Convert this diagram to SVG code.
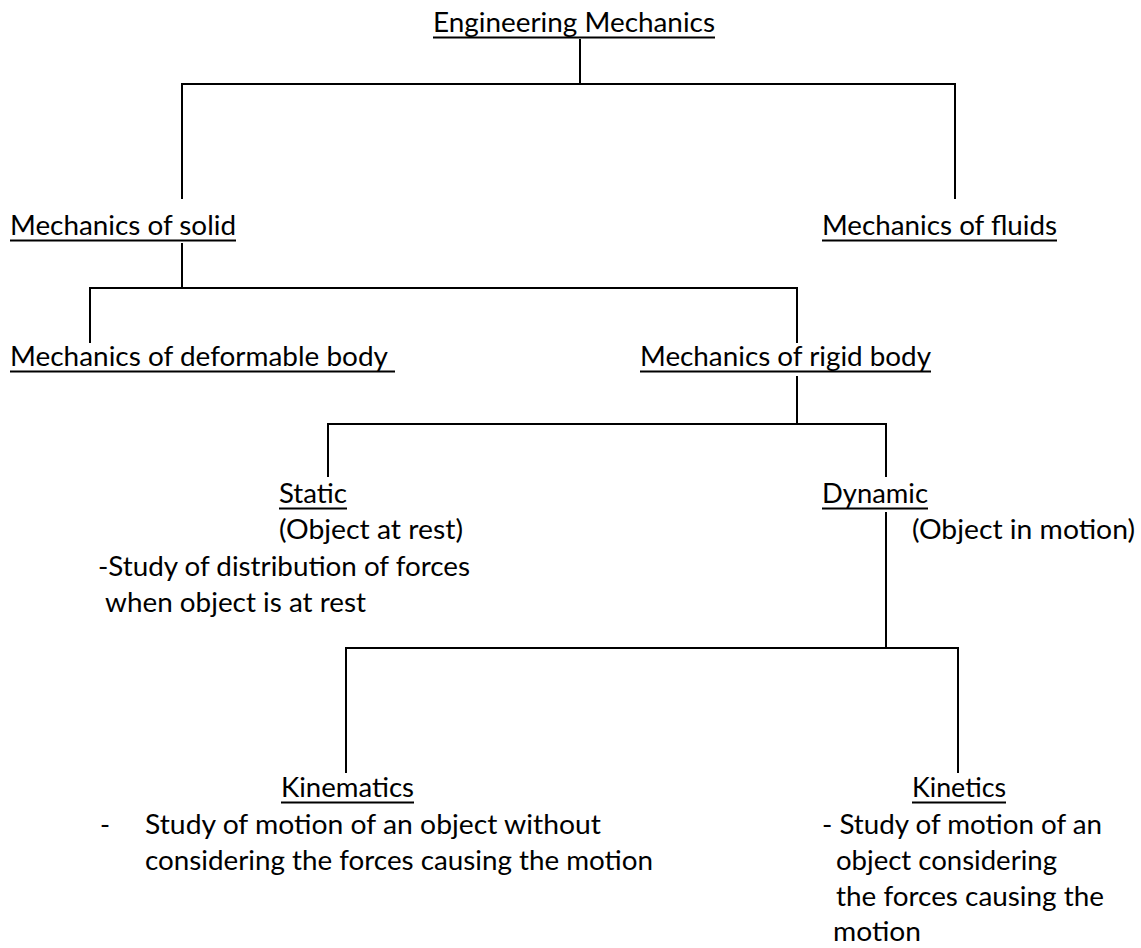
<svg xmlns="http://www.w3.org/2000/svg" width="1141" height="948" viewBox="0 0 1141 948">
<style>
  text { font-family: Lato, "Open Sans", "Liberation Sans", sans-serif; font-size: 27px; fill: #000; }
  .ul { stroke: #000; stroke-width: 2; }
  .c { fill: none; stroke: #000; stroke-width: 2; stroke-linecap: butt; stroke-linejoin: miter; }
</style>
<rect x="0" y="0" width="1141" height="948" fill="#fff"/>
<g id="connectors">
  <path class="c" d="M580,39 V84"/>
  <path class="c" d="M182,199 V84 H955 V199"/>
  <path class="c" d="M182,243 V288"/>
  <path class="c" d="M90,343 V288 H797 V343"/>
  <path class="c" d="M797,376 V424"/>
  <path class="c" d="M328,477 V424 H886 V477"/>
  <path class="c" d="M886,512 V648"/>
  <path class="c" d="M346,773 V648 H958 V773"/>
</g>
<g id="engineering-mechanics">
  <text x="433" y="32" textLength="282" lengthAdjust="spacingAndGlyphs">Engineering Mechanics</text>
  <line class="ul" x1="433" y1="37.5" x2="715" y2="37.5"/>
</g>
<g id="mechanics-of-solid">
  <text x="10" y="235" textLength="226" lengthAdjust="spacingAndGlyphs">Mechanics of solid</text>
  <line class="ul" x1="10" y1="240.5" x2="236" y2="240.5"/>
</g>
<g id="mechanics-of-fluids">
  <text x="822" y="235" textLength="235" lengthAdjust="spacingAndGlyphs">Mechanics of fluids</text>
  <line class="ul" x1="822" y1="240.5" x2="1057" y2="240.5"/>
</g>
<g id="mechanics-of-deformable-body">
  <text x="10" y="366" textLength="378" lengthAdjust="spacingAndGlyphs">Mechanics of deformable body</text>
  <line class="ul" x1="10" y1="371.5" x2="395" y2="371.5"/>
</g>
<g id="mechanics-of-rigid-body">
  <text x="640" y="366" textLength="291" lengthAdjust="spacingAndGlyphs">Mechanics of rigid body</text>
  <line class="ul" x1="640" y1="371.5" x2="931" y2="371.5"/>
</g>
<g id="static">
  <text x="279" y="503" textLength="68" lengthAdjust="spacingAndGlyphs">Static</text>
  <line class="ul" x1="279" y1="508.5" x2="347" y2="508.5"/>
  <text x="279" y="539" textLength="184" lengthAdjust="spacingAndGlyphs">(Object at rest)</text>
  <text x="98" y="576" textLength="372" lengthAdjust="spacingAndGlyphs">-Study of distribution of forces</text>
  <text x="105" y="612" textLength="261" lengthAdjust="spacingAndGlyphs">when object is at rest</text>
</g>
<g id="dynamic">
  <text x="822" y="503" textLength="106" lengthAdjust="spacingAndGlyphs">Dynamic</text>
  <line class="ul" x1="822" y1="508.5" x2="928" y2="508.5"/>
  <text x="912" y="539" textLength="223" lengthAdjust="spacingAndGlyphs">(Object in motion)</text>
</g>
<g id="kinematics">
  <text x="281" y="797" textLength="133" lengthAdjust="spacingAndGlyphs">Kinematics</text>
  <line class="ul" x1="281" y1="802.5" x2="414" y2="802.5"/>
  <text x="100" y="834">-</text>
  <text x="145" y="834" textLength="456" lengthAdjust="spacingAndGlyphs">Study of motion of an object without</text>
  <text x="145" y="870" textLength="508" lengthAdjust="spacingAndGlyphs">considering the forces causing the motion</text>
</g>
<g id="kinetics">
  <text x="912" y="797" textLength="94" lengthAdjust="spacingAndGlyphs">Kinetics</text>
  <line class="ul" x1="912" y1="802.5" x2="1006" y2="802.5"/>
  <text x="822" y="834" textLength="280" lengthAdjust="spacingAndGlyphs">- Study of motion of an</text>
  <text x="836" y="870" textLength="221" lengthAdjust="spacingAndGlyphs">object considering</text>
  <text x="836" y="906" textLength="268" lengthAdjust="spacingAndGlyphs">the forces causing the</text>
  <text x="833" y="941" textLength="88" lengthAdjust="spacingAndGlyphs">motion</text>
</g>
</svg>
